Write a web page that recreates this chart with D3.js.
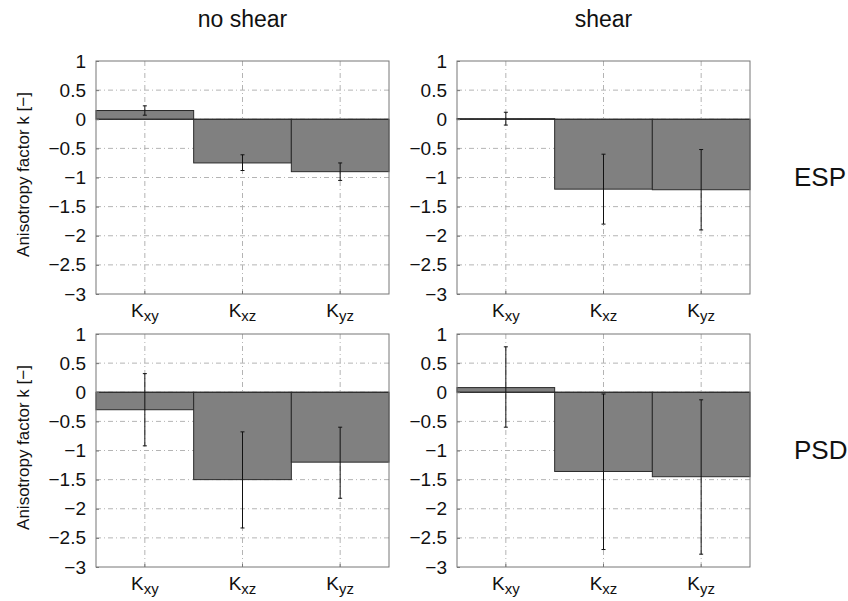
<!DOCTYPE html>
<html>
<head>
<meta charset="utf-8">
<script src="https://cdn.jsdelivr.net/npm/d3@7"></script>
<style>
  body { margin: 0; background: #fff; }
  text { font-family: "Liberation Sans", Arial, sans-serif; fill: #111; }
</style>
</head>
<body>
<div id="chart"></div>
<script>
// categories (subscripts of K)
var categories = ["xy", "xz", "yz"]
var yTicks = [1, 0.5, 0, -0.5, -1, -1.5, -2, -2.5, -3]
var colTitles = ["no shear", "shear"]
var rowTitles = ["ESP", "PSD"]

// bar values and error bar ends, per panel
var espNoShear = [0.15, -0.75, -0.9]
var espNoShearHi = [0.23, -0.61, -0.75]
var espNoShearLo = [0.07, -0.88, -1.05]

var espShear = [0.01, -1.2, -1.21]
var espShearHi = [0.12, -0.6, -0.52]
var espShearLo = [-0.1, -1.8, -1.9]

var psdNoShear = [-0.3, -1.5, -1.2]
var psdNoShearHi = [0.32, -0.68, -0.6]
var psdNoShearLo = [-0.92, -2.33, -1.82]

var psdShear = [0.08, -1.36, -1.45]
var psdShearHi = [0.78, -0.03, -0.13]
var psdShearLo = [-0.6, -2.7, -2.78]

var panels = [
  {row: 0, col: 0, v: espNoShear, hi: espNoShearHi, lo: espNoShearLo},
  {row: 0, col: 1, v: espShear, hi: espShearHi, lo: espShearLo},
  {row: 1, col: 0, v: psdNoShear, hi: psdNoShearHi, lo: psdNoShearLo},
  {row: 1, col: 1, v: psdShear, hi: psdShearHi, lo: psdShearLo}
]

var width = 848, height = 601
var colX = [96, 457]
var rowY = [61, 334]
var pw = 293, ph = 233

var svg = d3.select("#chart").append("svg")
  .attr("width", width).attr("height", height)

var x = d3.scaleBand().domain(categories).range([0, pw]).padding(0)
var y = d3.scaleLinear().domain([-3, 1]).range([ph, 0])

panels.forEach(function(p){
  var g = svg.append("g")
    .attr("transform", "translate(" + colX[p.col] + "," + rowY[p.row] + ")")

  // grid lines
  g.selectAll(".hgrid").data(yTicks.slice(1, -1)).enter()
    .append("line")
    .attr("x1", 0).attr("x2", pw)
    .attr("y1", function(d){return y(d)}).attr("y2", function(d){return y(d)})
    .style("stroke", "#b4b4b4").style("stroke-width", 1)
    .style("stroke-dasharray", "5,3,1,3")
  g.selectAll(".vgrid").data(categories).enter()
    .append("line")
    .attr("x1", function(d){return x(d) + x.bandwidth()/2})
    .attr("x2", function(d){return x(d) + x.bandwidth()/2})
    .attr("y1", 0).attr("y2", ph)
    .style("stroke", "#b4b4b4").style("stroke-width", 1)
    .style("stroke-dasharray", "5,3,1,3")

  // bars
  g.selectAll(".bar").data(p.v).enter()
    .append("rect")
    .attr("x", function(d, i){return x(categories[i])})
    .attr("width", x.bandwidth())
    .attr("y", function(d){return y(Math.max(0, d))})
    .attr("height", function(d){return Math.abs(y(d) - y(0))})
    .style("fill", "#808080")
    .style("stroke", "#2a2a2a").style("stroke-width", 1)

  // zero line
  g.append("line")
    .attr("x1", 0).attr("x2", pw).attr("y1", y(0)).attr("y2", y(0))
    .style("stroke", "#2a2a2a").style("stroke-width", 1)

  // error bars
  var eb = g.selectAll(".err").data(p.v).enter().append("g")
    .attr("transform", function(d, i){return "translate(" + (x(categories[i]) + x.bandwidth()/2) + ",0)"})
  eb.append("line")
    .attr("x1", 0).attr("x2", 0)
    .attr("y1", function(d, i){return y(p.hi[i])})
    .attr("y2", function(d, i){return y(p.lo[i])})
    .style("stroke", "#111").style("stroke-width", 1)
  eb.append("line")
    .attr("x1", -2).attr("x2", 2)
    .attr("y1", function(d, i){return y(p.hi[i])})
    .attr("y2", function(d, i){return y(p.hi[i])})
    .style("stroke", "#111").style("stroke-width", 1)
  eb.append("line")
    .attr("x1", -2).attr("x2", 2)
    .attr("y1", function(d, i){return y(p.lo[i])})
    .attr("y2", function(d, i){return y(p.lo[i])})
    .style("stroke", "#111").style("stroke-width", 1)

  // frame
  g.append("rect")
    .attr("x", 0).attr("y", 0).attr("width", pw).attr("height", ph)
    .style("fill", "none").style("stroke", "#777").style("stroke-width", 1)

  // y axis
  var yAxis = g.append("g")
    .call(d3.axisLeft(y).tickValues(yTicks).tickSize(-3).tickPadding(10)
      .tickFormat(function(d){return d3.format("")(d).replace("-", "\u2212")}))
  yAxis.select(".domain").remove()
  yAxis.selectAll("line").style("stroke", "#777")
  yAxis.selectAll("text").style("font-size", "19px").style("fill", "#111")
    .style("font-family", "'Liberation Sans', Arial, sans-serif")

  // x axis with subscript labels
  var xAxis = g.append("g").attr("transform", "translate(0," + ph + ")")
    .call(d3.axisBottom(x).tickSize(-3).tickFormat(""))
  xAxis.select(".domain").remove()
  xAxis.selectAll("line").style("stroke", "#777")
  xAxis.selectAll(".tick").append("text")
    .attr("y", 23).attr("text-anchor", "middle")
    .style("font-size", "19px").style("fill", "#111")
    .style("font-family", "'Liberation Sans', Arial, sans-serif")
    .each(function(d){
      var t = d3.select(this)
      t.append("tspan").text("K")
      t.append("tspan").attr("dy", 4).style("font-size", "15px").text(d)
    })

  // y label on left column
  if(p.col == 0){
    svg.append("text")
      .attr("transform", "translate(29," + (rowY[p.row] + ph/2 - 3) + ") rotate(-90)")
      .attr("text-anchor", "middle")
      .style("font-size", "17px")
      .text("Anisotropy factor k [\u2212]")
  }
})

// column titles
svg.selectAll(".coltitle").data(colTitles).enter()
  .append("text")
  .attr("x", function(d, i){return colX[i] + pw/2})
  .attr("y", 27)
  .attr("text-anchor", "middle")
  .style("font-size", "23px")
  .text(function(d){return d})

// row titles
svg.selectAll(".rowtitle").data(rowTitles).enter()
  .append("text")
  .attr("x", 794)
  .attr("y", function(d, i){return rowY[i] + 125})
  .style("font-size", "26px")
  .text(function(d){return d})
</script>
</body>
</html>
